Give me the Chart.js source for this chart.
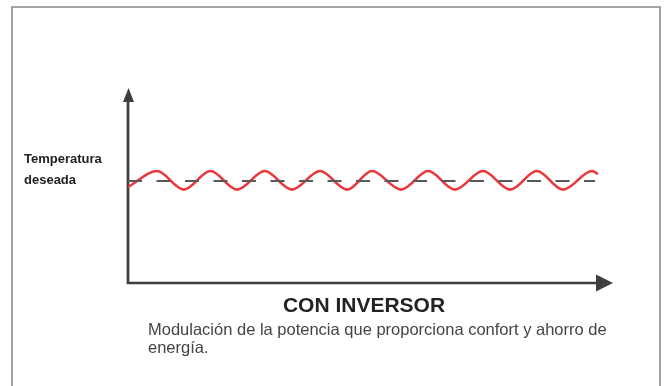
<!DOCTYPE html>
<html lang="es">
<head>
<meta charset="utf-8">
<title>Con inversor</title>
<script src="https://cdn.jsdelivr.net/npm/chart.js@4.4.1/dist/chart.umd.min.js"></script>
<style>
  html, body { margin: 0; padding: 0; background: #fff; overflow: hidden; }
  body { width: 667px; height: 386px; position: relative; font-family: "Liberation Sans", Arial, sans-serif; }
  #frame { position: absolute; left: 11px; top: 6px; width: 650px; height: 400px; border: 2px solid #a4a4a4; box-sizing: border-box; }
  #chart { position: absolute; left: 0; top: 0; }
  .lbl { position: absolute; color: #222; white-space: nowrap; }
  #ylabel { left: 24px; top: 148px; font-size: 13px; line-height: 21px; font-weight: bold; }
  #title { left: 214px; width: 300px; top: 294px; text-align: center; font-size: 21px; line-height: 21px; font-weight: bold; }
  #caption { left: 148px; top: 320px; font-size: 16.5px; line-height: 18px; color: #444; }
</style>
</head>
<body>
<div id="frame"></div>
<canvas id="chart" width="667" height="386"></canvas>
<div class="lbl" id="ylabel">Temperatura<br>deseada</div>
<div class="lbl" id="title">CON INVERSOR</div>
<div class="lbl" id="caption">Modulación de la potencia que proporciona confort y ahorro de<br>energía.</div>
<script>
// lectura del gráfico: tiempo 0-100 en el eje x, temperatura 0-100 en el eje y
const waveTime = [0, 6.0, 11.5, 17.0, 22.5, 28.2, 33.8, 39.6, 45.2, 50.3, 56.3, 61.9, 67.4, 73.2, 78.8, 84.3, 89.7, 95.7, 96.9];
const waveTemp = [49.2, 57.4, 47.9, 57.4, 47.9, 57.4, 47.9, 57.4, 47.9, 57.4, 47.9, 57.4, 47.9, 57.4, 47.9, 57.4, 47.9, 57.4, 55.9];
const setpointTime = [0, 96.3];
const setpointTemp = [52.3, 52.3];

const RED = '#e8383b';
const AXIS = '#3c3e40';

const pts = (xs, ys) => xs.map((x, i) => ({ x, y: ys[i] }));

// ejes con flecha dibujados desde las escalas
const arrowAxes = {
  id: 'arrowAxes',
  beforeDatasetsDraw(chart) {
    const { ctx, scales: { x, y } } = chart;
    const x0 = x.getPixelForValue(0), x1 = x.getPixelForValue(100);
    const y0 = y.getPixelForValue(0), y1 = y.getPixelForValue(100);
    ctx.save();
    ctx.strokeStyle = AXIS;
    ctx.fillStyle = AXIS;
    ctx.lineWidth = 2.7;
    ctx.beginPath();
    ctx.moveTo(x0, y1 + 12);
    ctx.lineTo(x0, y0);
    ctx.lineTo(x1 - 14, y0);
    ctx.stroke();
    ctx.beginPath();
    ctx.moveTo(x0 + 0.5, y1);
    ctx.lineTo(x0 + 6, y1 + 14);
    ctx.lineTo(x0 - 5, y1 + 14);
    ctx.closePath();
    ctx.fill();
    ctx.beginPath();
    ctx.moveTo(x1, y0);
    ctx.lineTo(x1 - 17, y0 - 8.5);
    ctx.lineTo(x1 - 17, y0 + 8.5);
    ctx.closePath();
    ctx.fill();
    ctx.restore();
  }
};

new Chart(document.getElementById('chart'), {
  type: 'line',
  data: {
    datasets: [{
      label: 'Temperatura deseada',
      data: pts(setpointTime, setpointTemp),
      borderColor: '#58595b',
      borderWidth: 2,
      borderDash: [14, 14.5],
      pointRadius: 0,
      tension: 0
    }, {
      label: 'Temperatura',
      data: pts(waveTime, waveTemp),
      borderColor: RED,
      borderWidth: 2.6,
      pointRadius: 0,
      cubicInterpolationMode: 'monotone'
    }]
  },
  options: {
    responsive: false,
    animation: false,
    layout: { padding: { left: 128, right: 54, top: 88, bottom: 103 } },
    plugins: { legend: { display: false }, tooltip: { enabled: false } },
    scales: {
      x: { type: 'linear', min: 0, max: 100, display: false },
      y: { min: 0, max: 100, display: false }
    }
  },
  plugins: [arrowAxes]
});
</script>
</body>
</html>
